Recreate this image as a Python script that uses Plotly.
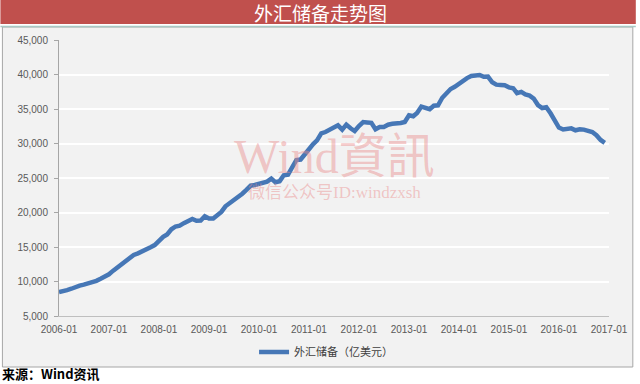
import pandas as pd
import plotly.graph_objects as go

# ---- data ----
months = pd.date_range("2006-01-01", "2016-12-01", freq="MS")
reserves_2006 = [8452, 8537, 8751, 8950, 9250, 9411, 9546, 9720, 9879, 10096, 10400, 10663]
reserves_2007 = [11046, 11574, 12020, 12466, 12927, 13326, 13852, 14086, 14336, 14549, 14970, 15282]
reserves_2008 = [15898, 16471, 16822, 17567, 17970, 18088, 18452, 18842, 19056, 18797, 18847, 19460]
reserves_2009 = [19135, 19121, 19537, 20089, 20895, 21316, 21746, 22108, 22726, 23283, 23888, 23992]
reserves_2010 = [24152, 24246, 24471, 24905, 24395, 24543, 25389, 25478, 26483, 27609, 27678, 28473]
reserves_2011 = [29317, 29914, 30447, 31458, 31661, 31975, 32453, 32627, 32017, 32738, 32209, 31811]
reserves_2012 = [32536, 33097, 33050, 32989, 32061, 32400, 32398, 32729, 32851, 32874, 32973, 33116]
reserves_2013 = [34095, 33954, 34426, 35346, 35148, 34967, 35478, 35530, 36627, 37366, 37895, 38213]
reserves_2014 = [38664, 39137, 39481, 39788, 39839, 39932, 39663, 39689, 38877, 38529, 38474, 38430]
reserves_2015 = [38134, 38015, 37300, 37481, 37111, 36938, 36513, 35574, 35141, 35255, 34384, 33304]
reserves_2016 = [32309, 32023, 32126, 32197, 31917, 32052, 32011, 31852, 31664, 31207, 30516, 30105]
reserves = (reserves_2006 + reserves_2007 + reserves_2008 + reserves_2009 + reserves_2010 +
            reserves_2011 + reserves_2012 + reserves_2013 + reserves_2014 + reserves_2015 +
            reserves_2016)
series_name = "外汇储备（亿美元）"
title_text = "外汇储备走势图"
source_text = "来源：Wind资讯"
y_ticks = [5000, 10000, 15000, 20000, 25000, 30000, 35000, 40000, 45000]
x_tick_years = list(range(2006, 2018))

# ---- layout geometry (pixels) ----
W, H = 640, 384
L, R, T, B = 59, 27, 40, 68
pw, ph = W - L - R, H - T - B


def px(x):
    return (x - L) / pw


def py(y):
    return (H - B - y) / ph


fig = go.Figure()
fig.add_trace(go.Scatter(
    x=months, y=reserves, mode="lines", name=series_name,
    line=dict(color="#4677b6", width=4.5),
))

font_lbl = "Liberation Sans, Arial, Noto Sans CJK SC"
fig.update_layout(
    width=W, height=H,
    margin=dict(l=L, r=R, t=T, b=B, pad=0),
    paper_bgcolor="white",
    plot_bgcolor="rgba(0,0,0,0)",
    showlegend=True,
    legend=dict(orientation="h", x=px(328), xanchor="center", y=py(352), yanchor="middle",
                font=dict(size=11, color="#404040", family="Noto Sans CJK SC"),
                bgcolor="rgba(0,0,0,0)", itemwidth=30),
    xaxis=dict(
        type="date",
        range=["2006-01-01", "2017-01-01"],
        tickvals=[f"{y}-01-01" for y in x_tick_years],
        ticktext=[f"{y}-01" for y in x_tick_years],
        showgrid=False, zeroline=False,
        showline=True, linecolor="#bfbfbf", linewidth=1,
        ticks="", tickfont=dict(size=10, color="#595959", family=font_lbl),
        ticklabeloverflow="allow", ticklabelstandoff=4,
    ),
    yaxis=dict(
        range=[5000, 45000],
        tickvals=y_ticks,
        tickformat=",d",
        showgrid=True, gridcolor="white", gridwidth=1.5,
        zeroline=False,
        showline=True, linecolor="#a6a6a6", linewidth=1,
        ticks="outside", ticklen=4, tickcolor="#a6a6a6",
        ticklabelstandoff=4,
        tickfont=dict(size=10, color="#595959", family=font_lbl),
    ),
)

shapes = [
    # chart box
    dict(type="rect", xref="paper", yref="paper", x0=px(2), x1=px(637), y0=py(367), y1=py(27),
         fillcolor="#f2f2f2", line=dict(color="#a6a6a6", width=1), layer="below"),
    # title bar
    dict(type="rect", xref="paper", yref="paper", x0=px(0), x1=px(640), y0=py(24), y1=py(0),
         fillcolor="#c0504d", line=dict(width=0), layer="below"),
    dict(type="line", xref="paper", yref="paper", x0=px(0), x1=px(640), y0=py(26.5), y1=py(26.5),
         line=dict(color="#a9c9c4", width=1.5), layer="below"),
]
fig.update_layout(shapes=shapes)

wm_color = "rgba(235,140,140,0.45)"
annotations = [
    dict(text=title_text, xref="paper", yref="paper", x=px(322), y=py(12),
         xanchor="center", yanchor="middle", showarrow=False, borderpad=0,
         font=dict(size=19, color="white", family="Noto Sans CJK SC")),
    dict(text="<b>" + source_text + "</b>", xref="paper", yref="paper", x=px(1), y=py(383.5),
         xanchor="left", yanchor="bottom", showarrow=False, borderpad=0,
         font=dict(size=13, color="black", family="Noto Sans CJK SC")),
    dict(text="Wind資訊", xref="paper", yref="paper", x=px(337), y=py(156),
         xanchor="center", yanchor="middle", showarrow=False, borderpad=0,
         font=dict(size=48, color=wm_color, family="Liberation Serif, Noto Sans CJK TC")),
    dict(text="微信公众号ID:windzxsh", xref="paper", yref="paper", x=px(337), y=py(192),
         xanchor="center", yanchor="middle", showarrow=False, borderpad=0,
         font=dict(size=17, color=wm_color, family="Liberation Serif, Noto Sans CJK SC")),
]
fig.update_layout(annotations=annotations)

fig.write_html("out.html", config={"displayModeBar": False},
               post_script="document.body.style.margin='0';")
